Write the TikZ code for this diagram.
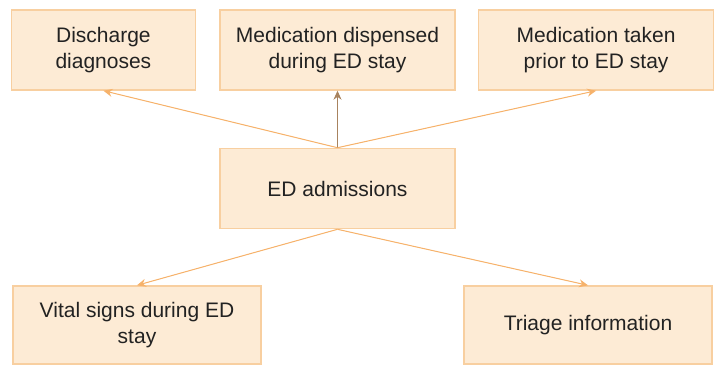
\documentclass[tikz,border=0pt]{standalone}
\usepackage{fontspec}
\setmainfont{Liberation Sans}
\usepackage{tikz}
\usetikzlibrary{arrows, arrows.meta, positioning}
\definecolor{boxfill}{HTML}{FDEBD5}
\definecolor{boxedge}{HTML}{F8CFA0}
\definecolor{arroworange}{HTML}{F6B26B}
\definecolor{arrowbrown}{HTML}{A8835E}
\definecolor{textdark}{HTML}{222222}

\begin{document}
\begin{tikzpicture}[
    x=1pt, y=-1pt,
    table/.style={rectangle, draw=boxedge, fill=boxfill, line width=1.6pt, align=center, minimum width=235pt, minimum height=80pt, inner sep=0pt, text=textdark, font=\fontsize{21}{26}\selectfont},
    arrow/.style={-{Stealth[length=9pt, width=8pt]}, line width=1pt, draw=arroworange, fill=arroworange},
    node distance=57pt
]
\useasboundingbox (0,0) rectangle (715,365);

% Nodes
\node[table] (admissions) at (337.5,188.5) {ED admissions};
\node[table, above=of admissions] (dispensed) {Medication dispensed\\during ED stay};
\node[table, minimum width=184pt, left=23pt of dispensed] (diagnoses) {Discharge\\diagnoses};
\node[table, right=22pt of dispensed] (priormeds) {Medication taken\\prior to ED stay};
\node[table, minimum width=248pt, minimum height=78pt, below=56pt of admissions, xshift=-200.5pt] (vitals) {Vital signs during ED\\stay};
\node[table, minimum width=248pt, minimum height=78pt, below=56pt of admissions, xshift=250.5pt] (triage) {Triage information};

% Arrows
\draw[arrow] (admissions.north) -- (diagnoses.south);
\draw[arrow, draw=arrowbrown] (admissions.north) -- (dispensed.south);
\draw[arrow] (admissions.north) -- (priormeds.south);
\draw[arrow] (admissions.south) -- (vitals.north);
\draw[arrow] (admissions.south) -- (triage.north);

\end{tikzpicture}
\end{document}
